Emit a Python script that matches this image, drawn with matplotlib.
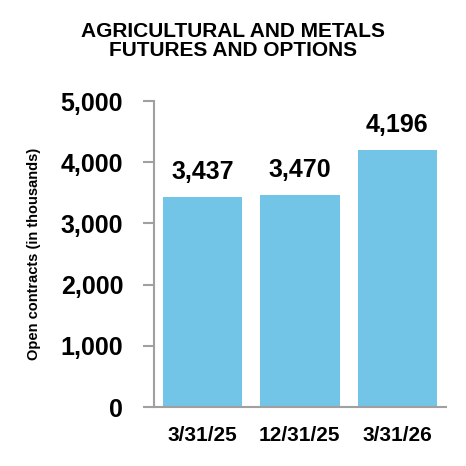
import matplotlib.pyplot as plt

# Data
categories = ['3/31/25', '12/31/25', '3/31/26']
open_contracts = [3437, 3470, 4196]
bar_labels = ['3,437', '3,470', '4,196']
y_ticks = [0, 1000, 2000, 3000, 4000, 5000]
y_tick_labels = ['0', '1,000', '2,000', '3,000', '4,000', '5,000']

plt.rcParams['font.family'] = ['Liberation Sans', 'DejaVu Sans']
plt.rcParams['font.weight'] = 'bold'

fig = plt.figure(figsize=(4.66, 4.66), dpi=100)
ax = fig.add_axes([0.330, 0.1266, 0.627, 0.6564])

x = list(range(len(categories)))
bars = ax.bar(x, open_contracts, width=0.815, color='#73C5E8')

for rect, label in zip(bars, bar_labels):
    ax.annotate(label, (rect.get_x() + rect.get_width() / 2, rect.get_height()),
                xytext=(0, 13), textcoords='offset points',
                ha='center', va='baseline', fontsize=18, fontweight='bold')

ax.set_xlim(-0.5, 2.5)
ax.set_ylim(0, 5000)
ax.set_yticks(y_ticks)
ax.set_yticklabels(y_tick_labels, fontsize=18, fontweight='bold')
ax.set_xticks(x)
ax.set_xticklabels(categories, fontsize=15, fontweight='bold')

ax.spines['top'].set_visible(False)
ax.spines['right'].set_visible(False)
for side in ['left', 'bottom']:
    ax.spines[side].set_color('#A0A0A0')
    ax.spines[side].set_linewidth(1.5)
ax.tick_params(axis='y', length=8, width=1.5, color='#A0A0A0', pad=14)
ax.tick_params(axis='x', length=0, pad=14)

ax.set_ylabel('Open contracts (in thousands)', fontsize=10.5, fontweight='bold')
ax.yaxis.set_label_coords(-0.385, 0.5)

fig.text(0.5, 0.912, 'AGRICULTURAL AND METALS\nFUTURES AND OPTIONS',
         ha='center', va='center', fontsize=15, fontweight='bold', linespacing=1.05)

fig.savefig('out.png', dpi=100)
